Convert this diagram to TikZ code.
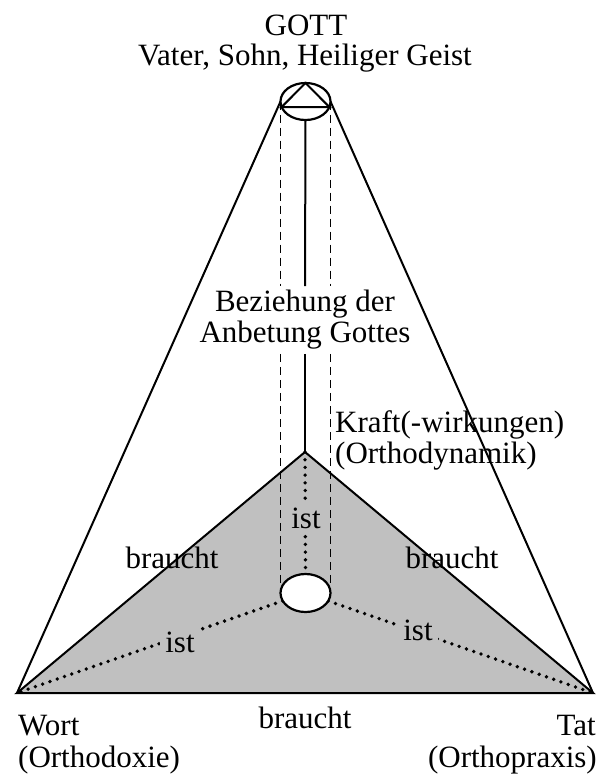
\documentclass[tikz,border=0pt]{standalone}
\usepackage{fontspec}
\setmainfont{Liberation Serif}
\usetikzlibrary{shapes.geometric}
\definecolor{tri}{HTML}{C0C0C0}
\pgfdeclarelayer{bgA}
\pgfdeclarelayer{bgB}
\pgfsetlayers{bgA,bgB,main}
\begin{document}
\begin{tikzpicture}[x=1pt,y=-1pt,
  txt/.style={font=\fontsize{31}{31}\selectfont, inner sep=0pt},
  lbl/.style={txt, anchor=base},
  ln/.style={line width=2pt, line join=miter},
  dsh/.style={line width=1.8pt, dash pattern=on 8pt off 5pt},
  dts/.style={line width=3.8pt, line cap=round, dash pattern=on 0pt off 7.7pt},
  oval/.style={ellipse, draw, line width=2.2pt, fill=white, inner sep=0pt, outer sep=0pt}]
\useasboundingbox (0,0) rectangle (603,774);

\coordinate (W) at (17,693);
\coordinate (T) at (593,693);
\coordinate (K) at (305,452);
\node[oval, minimum width=50pt, minimum height=37pt] (E1) at (305.5,101.5) {};
\node[oval, minimum width=50pt, minimum height=38pt] (E2) at (305.5,593) {};
\draw[ln] (E1.north) -- (E1.193) -- (E1.347) -- cycle;

\node[lbl] (gott) at (306,35) {GOTT};
\node[lbl] (trin) at (305,65) {Vater, Sohn, Heiliger Geist};
\node[txt, align=center, inner sep=4pt] (bez) at (305,320) {Beziehung der\\Anbetung Gottes};
\node[lbl, anchor=base west] (kraft) at (335,432) {Kraft(-wirkungen)};
\node[lbl, anchor=base west] (dyn) at (335,463) {(Orthodynamik)};
\node[lbl] (br1) at (172,568) {braucht};
\node[lbl] (br2) at (452,568) {braucht};
\node[lbl] (br3) at (305,728) {braucht};
\node[lbl, fill=tri, inner sep=5pt] (ist1) at (306,528) {ist};
\node[lbl, fill=tri, inner sep=5pt] (ist2) at (180,652) {ist};
\node[lbl, fill=tri, inner sep=5pt] (ist3) at (418,640) {ist};
\node[lbl, anchor=base west] (wort) at (18,735) {Wort};
\node[lbl, anchor=base west] (doxie) at (18,767) {(Orthodoxie)};
\node[lbl, anchor=base east] (tat) at (596,735) {Tat};
\node[lbl, anchor=base east] (praxis) at (597,767) {(Orthopraxis)};

\begin{pgfonlayer}{bgA}
\filldraw[ln, fill=tri] (W) -- (K) -- (T) -- cycle;
\end{pgfonlayer}
\begin{pgfonlayer}{bgB}
\draw[ln] (E1.west) -- (W);
\draw[ln] (E1.east) -- (T);
\draw[ln] (E1.south) -- (bez.north);
\draw[ln] (bez.south) -- (K);
\draw[dsh] (E1.west) -- (E1.west |- bez.north);
\draw[dsh] (E1.west |- bez.south) -- (E2.west);
\draw[dsh] (E1.east) -- (E1.east |- bez.north);
\draw[dsh] (E1.east |- bez.south) -- (E2.east);
\draw[dts] (K) -- (E2.north);
\draw[dts] (E2) -- (W);
\draw[dts] (E2) -- (T);
\end{pgfonlayer}
\end{tikzpicture}
\end{document}
